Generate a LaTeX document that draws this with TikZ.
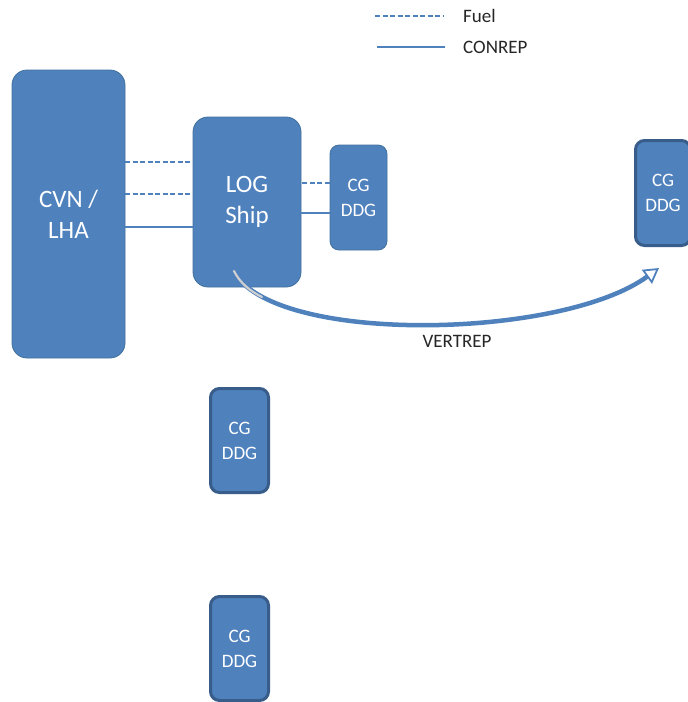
\documentclass[tikz,border=0pt]{standalone}
\usepackage{fontspec}
\setmainfont{Carlito}
\usetikzlibrary{arrows.meta,calc}
\definecolor{boxfill}{HTML}{4F81BD}
\definecolor{boxedge}{HTML}{41719C}
\definecolor{thickedge}{HTML}{385D8A}
\definecolor{txt}{HTML}{262626}
\definecolor{facegray}{HTML}{CFCFCF}
\tikzset{
  ship/.style={draw=boxedge, line width=0.8pt, fill=boxfill, rounded corners=15pt,
    text=white, align=center, inner sep=0pt, font=\fontsize{25}{31}\selectfont},
  escort/.style={draw=boxedge, line width=0.8pt, fill=boxfill, rounded corners=9pt,
    text=white, align=center, inner sep=0pt, font=\fontsize{19}{25}\selectfont},
  escortthick/.style={escort, draw=thickedge, line width=3pt},
  fuel/.style={draw=boxfill, line width=1.6pt, dash pattern=on 5pt off 2.5pt},
  conrep/.style={draw=boxfill, line width=1.6pt},
  lbl/.style={text=txt, font=\fontsize{19}{22}\selectfont, inner sep=0pt},
}
\begin{document}
\begin{tikzpicture}[x=1pt,y=-1pt]
\useasboundingbox (0,0) rectangle (688,702);
\clip (0,0) rectangle (688,702);
\fill[white] (0,0) rectangle (688,702);

% legend
\coordinate (lf1) at (375,16);
\coordinate (lf2) at (443,16);
\coordinate (lc1) at (377,47);
\coordinate (lc2) at (445,47);
\draw[fuel] (lf1) -- (lf2);
\draw[conrep, line width=2pt] (lc1) -- (lc2);
\node[lbl, anchor=west] (fuelt) at (463,16) {Fuel};
\node[lbl, anchor=west] (conrept) at (463,47) {CONREP};

% ships
\node[ship, minimum width=113pt, minimum height=288pt] (CVN) at (68.5,214) {CVN /\\LHA};
\node[ship, minimum width=108pt, minimum height=170pt] (LOG) at (247,202) {LOG\\Ship};
\node[escort, minimum width=57pt, minimum height=105pt] (CG1) at (358.5,197.5) {CG\\DDG};
\node[escortthick, minimum width=55pt, minimum height=105pt] (CG2) at (663,193) {CG\\DDG};
\node[escortthick, minimum width=58pt, minimum height=104pt] (CG3) at (239.5,440.5) {CG\\DDG};
\node[escortthick, minimum width=58pt, minimum height=104pt] (CG4) at (239.5,648.5) {CG\\DDG};

% connectors CVN - LOG
\draw[fuel] (CVN.east |- 0,162) -- (LOG.west |- 0,162);
\draw[fuel] (CVN.east |- 0,194) -- (LOG.west |- 0,194);
\draw[conrep] (CVN.east |- 0,227) -- (LOG.west |- 0,227);

% connectors LOG - CG
\coordinate (lg1) at ([xshift=-14pt]LOG.east |- 0,183);
\coordinate (lg2) at ([xshift=-14pt]LOG.east |- 0,213);
\draw[fuel] (lg1) -- (CG1.west |- lg1);
\draw[conrep] (lg2) -- (CG1.west |- lg2);

% VERTREP curved arrow
\coordinate (vs) at (233,270);
\coordinate (ve) at (659,268);
\draw[draw=boxfill, line width=4.5pt,
  -{Triangle[open, length=15pt, width=17pt, line width=1.8pt]}]
  (vs) .. controls (270,345) and (560,340) .. (ve);
\draw[draw=facegray, line width=2.2pt, line cap=round]
  (234,271) .. controls (240,283) and (250,291) .. (262,297);
\node[lbl] (vert) at (457,341) {VERTREP};
\end{tikzpicture}
\end{document}
